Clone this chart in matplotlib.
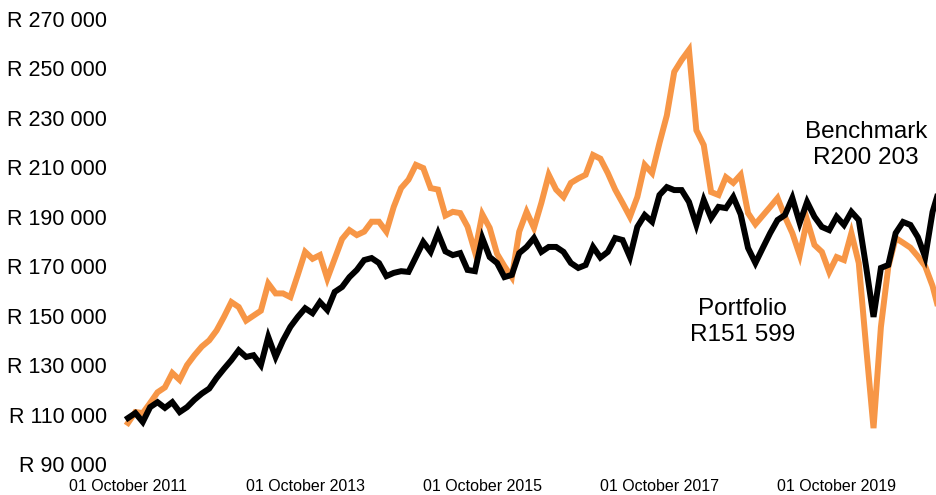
"""Portfolio vs benchmark growth of R100 000, monthly values."""
import matplotlib

matplotlib.use("Agg")
import matplotlib.pyplot as plt
import pandas as pd

plt.rcParams["font.family"] = ["Liberation Sans", "DejaVu Sans"]

# month-start dates, Oct 2011 onwards
dates = pd.date_range("2011-10-01", periods=111, freq="MS")

# values in R thousands
portfolio_k = [
    106.6, 111, 110.6, 114.7, 119, 121, 126.8, 124, 130, 134,
    137.5, 140, 144, 149.5, 155.5, 153.5, 148, 150, 152, 163,
    159, 159, 157.5, 166.5, 175.8, 173, 174.5, 165, 173, 181,
    184.6, 182.6, 184, 188, 188, 184, 194, 201.6, 205, 211,
    209.7, 201.6, 201, 190.5, 192, 191.5, 186, 175.8, 191, 185.5,
    175, 170, 165.6, 184, 192, 185.5, 195.6, 207, 201, 198,
    203.7, 205.5, 207, 215, 213.5, 207.7, 201, 195.6, 190, 198,
    211, 207.7, 219.8, 231, 248.6, 253.4, 257.5, 225, 219, 200,
    198.8, 206, 203.7, 207, 191.5, 187, 190.5, 194, 197.6, 190,
    183.4, 174.5, 188.7, 178.6, 175.8, 167.7, 173.7, 172.5, 183.4, 171.3,
    137.3, 104.5, 145.4, 169.7, 181.4, 179.5, 177.5, 174, 170, 162,
    150.5,
]
benchmark_k = [
    108.6, 110.6, 107, 113, 115, 112.7, 115, 111, 113, 116,
    118.5, 120.5, 124.8, 128.5, 132, 136, 133.3, 134, 130, 141.4,
    133.3, 140, 145.5, 149.5, 153, 151, 155.5, 152.3, 159.6, 161.6,
    165.6, 168.5, 172.5, 173.3, 171.3, 166, 167.3, 168, 167.7, 173.7,
    179.8, 175.8, 183.4, 176, 174.5, 175.3, 168.5, 168, 181.4, 173.7,
    171.3, 165.6, 166.5, 175.3, 177.8, 181.4, 175.8, 177.8, 177.8, 175.8,
    171.3, 169.3, 170.5, 177.8, 173.5, 175.8, 181.4, 180.6, 173.7, 185.9,
    190.7, 188, 198.8, 202, 200.8, 200.8, 196, 186.7, 196.8, 189.5,
    194, 193.5, 198, 191, 177.4, 171.3, 177.4, 183.4, 188.7, 190.7,
    197.6, 187.5, 196, 190, 185.9, 184.6, 190, 186.7, 192, 188.7,
    169.7, 149.5, 169.3, 170.5, 183.4, 187.9, 186.7, 181.8, 173.7, 192,
    202,
]
portfolio_label = "Portfolio\nR151 599"
benchmark_label = "Benchmark\nR200 203"
y_ticks = list(range(90000, 270001, 20000))

ORANGE = "#F79646"

fig = plt.figure(figsize=(9.37, 4.95), dpi=100)
ax = fig.add_axes([118 / 937, 31 / 495, 819 / 937, 445 / 495])

x = list(range(len(dates)))
ax.plot(x, [v * 1000 for v in portfolio_k], color=ORANGE, linewidth=4.3, solid_joinstyle="miter")
ax.plot(x, [v * 1000 for v in benchmark_k], color="black", linewidth=4.3, solid_joinstyle="miter")

ax.text(100, 219000, benchmark_label, ha="center", va="center", fontsize=17.5)
ax.text(83.2, 147400, portfolio_label, ha="center", va="center", fontsize=17.5)

ax.set_xlim(-1.355, 109.6)
ax.set_ylim(90000, 270000)

xt = [i for i, d in enumerate(dates) if d.month == 10 and d.year % 2 == 1]
ax.set_xticks(xt)
ax.set_xticklabels([dates[i].strftime("%d %B %Y") for i in xt], fontsize=11.5)
ax.set_yticks(y_ticks)
ax.set_yticklabels([f"R {v:,}".replace(",", " ") for v in y_ticks], fontsize=15.5)
ax.tick_params(length=0)
ax.tick_params(axis="y", pad=8)
ax.tick_params(axis="x", pad=11)

for s in ax.spines.values():
    s.set_visible(False)

fig.savefig("out.png", dpi=100)
